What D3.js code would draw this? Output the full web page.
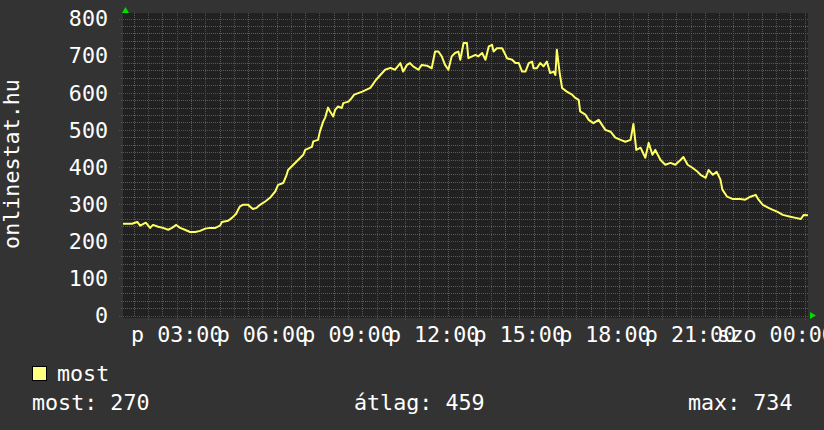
<!DOCTYPE html>
<html><head><meta charset="utf-8">
<script src="https://cdn.jsdelivr.net/npm/d3@7"></script>
<style>html,body{margin:0;padding:0;background:#333333;}svg{display:block}</style>
</head><body>
<svg id="c" width="824" height="430"></svg>
<script>
// time in minutes since Friday 00:00
const minutes = [67,69,86,97,103,115,124,130,141,151,162,170,179,187,197,208,219,229,240,250,261,271,275,288,296,305,309,313,319,330,340,348,355,366,376,387,393,404,411,414,425,435,446,450,464,467,477,481,488,492,498,502,509,513,519,527,530,541,548,553,570,587,599,618,629,639,650,656,664,670,677,688,695,706,716,723,730,737,744,751,758,765,772,776,783,790,793,801,808,814,822,829,836,843,846,853,864,871,874,885,892,899,906,913,920,927,930,937,944,951,958,965,972,976,979,985,990,1000,1011,1018,1025,1028,1039,1046,1056,1067,1081,1092,1102,1113,1123,1134,1140,1146,1155,1165,1172,1180,1186,1197,1207,1218,1228,1239,1245,1254,1264,1275,1281,1292,1298,1307,1315,1323,1327,1337,1348,1365,1375,1386,1397,1403,1412,1424,1432,1443,1454,1470,1481,1492,1498,1507];
const values = [247,247,247,252,242,250,236,244,239,236,231,236,244,236,231,225,225,228,234,236,236,242,252,255,263,274,285,294,298,298,287,290,298,307,317,334,352,357,379,392,406,419,433,446,454,469,473,496,523,533,560,550,536,554,563,559,572,576,586,595,603,613,635,662,667,662,680,657,675,680,671,662,675,673,666,711,711,698,675,662,698,707,711,689,734,734,693,698,702,698,707,689,725,729,711,720,720,702,693,689,680,680,657,657,680,684,666,666,680,671,684,653,657,648,716,653,613,603,595,586,581,550,541,527,518,527,500,495,479,473,468,473,516,446,452,425,465,433,446,419,406,411,406,419,427,406,398,387,379,371,392,379,387,366,339,320,314,314,312,320,325,312,298,290,285,279,271,266,263,260,271,270];
const yTicks = [0,100,200,300,400,500,600,700,800];
const xTickMinutes = [180,360,540,720,900,1080,1260,1440];
const xTickLabels = ["p 03:00","p 06:00","p 09:00","p 12:00","p 15:00","p 18:00","p 21:00","szo 00:00"];
const yTitle = "onlinestat.hu";
const seriesName = "most";
const statLabels = ["most: 270","átlag: 459","max: 734"];

const FONT = "'DejaVu Sans Mono', monospace";
const FS = "21.7px";
const svg = d3.select("#c");
const x = d3.scaleLinear().domain([67,1507]).range([123,808]);
const y = d3.scaleLinear().domain([0,800]).range([315.5,18.5]);

svg.append("rect").attr("width",824).attr("height",430).attr("fill","#333333");
svg.append("rect").attr("x",123).attr("y",13).attr("width",685).attr("height",305).attr("fill","#212121");

const g = svg.append("g");
// vertical grid
const vMinor = d3.range(90,1507,30).filter(m=>m%60!==0);
const vMajor = d3.range(120,1507,60);
g.selectAll(".vmin").data(vMinor).join("line")
  .attr("x1",d=>Math.round(x(d))+0.5).attr("x2",d=>Math.round(x(d))+0.5)
  .attr("y1",13).attr("y2",316).attr("stroke","#595959").attr("stroke-width",1).attr("stroke-dasharray","1,1");
g.selectAll(".vmaj").data(vMajor).join("line")
  .attr("x1",d=>Math.round(x(d))+0.5).attr("x2",d=>Math.round(x(d))+0.5)
  .attr("y1",13).attr("y2",320).attr("stroke","#8a3434").attr("stroke-width",1).attr("stroke-dasharray","1,1");
// horizontal grid
const hMinor = d3.range(0,801,20).filter(v=>v%100!==0);
g.selectAll(".hmin").data(hMinor).join("line")
  .attr("y1",d=>Math.round(y(d))+0.5).attr("y2",d=>Math.round(y(d))+0.5)
  .attr("x1",121).attr("x2",808).attr("stroke","#595959").attr("stroke-width",1).attr("stroke-dasharray","1,1");
g.selectAll(".hmaj").data(yTicks).join("line")
  .attr("y1",d=>Math.round(y(d))+0.5).attr("y2",d=>Math.round(y(d))+0.5)
  .attr("x1",119).attr("x2",808).attr("stroke","#8a3434").attr("stroke-width",1).attr("stroke-dasharray","1,1");

// arrows
svg.append("path").attr("d","M122,13 L125.5,7 L129,13 Z").attr("fill","#00dd00");
svg.append("path").attr("d","M810,312 L816,315.5 L810,319 Z").attr("fill","#00dd00");

// y labels
svg.selectAll(".yl").data(yTicks).join("text")
  .attr("x",108).attr("y",d=>y(d)).attr("dy","0.36em").attr("text-anchor","end")
  .attr("font-family",FONT).attr("font-size",FS).attr("fill","#ffffff").text(d=>d);
// x labels
svg.selectAll(".xl").data(xTickMinutes).join("text")
  .attr("x",d=>x(d)).attr("y",341.5).attr("text-anchor","middle")
  .attr("font-family",FONT).attr("font-size",FS).attr("fill","#ffffff").text((d,i)=>xTickLabels[i]);
// title
svg.append("text").attr("transform","translate(18.5,164) rotate(-90)").attr("text-anchor","middle")
  .attr("font-family",FONT).attr("font-size",FS).attr("fill","#ffffff").text(yTitle);

// line
const line = d3.line().x((d,i)=>x(minutes[i])).y(d=>y(d));
svg.append("path").datum(values).attr("d",line).attr("fill","none")
  .attr("stroke","#ffff66").attr("stroke-width",2).attr("stroke-linejoin","round");

// legend
svg.append("rect").attr("x",32.5).attr("y",366.5).attr("width",14).attr("height",14)
  .attr("fill","#ffff80").attr("stroke","#000").attr("stroke-width",1);
svg.append("text").attr("x",57).attr("y",381).attr("font-family",FONT).attr("font-size",FS)
  .attr("fill","#ffffff").text(seriesName);
const statX = [32,354,688];
svg.selectAll(".st").data(statLabels).join("text")
  .attr("x",(d,i)=>statX[i]).attr("y",410).attr("font-family",FONT).attr("font-size",FS)
  .attr("fill","#ffffff").text(d=>d);
</script>
</body></html>
